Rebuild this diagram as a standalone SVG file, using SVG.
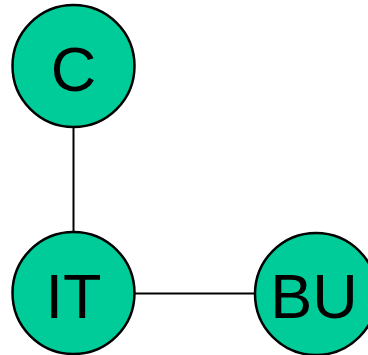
<svg xmlns="http://www.w3.org/2000/svg" width="368" height="355" viewBox="0 0 368 355">
  <style>
    .node circle { fill: #00CC99; stroke: #000; stroke-width: 2.5; }
    .node text { font-family: "Liberation Sans", Arial, sans-serif; font-size: 63px; fill: #000; text-anchor: middle; }
    .edge { stroke: #000; stroke-width: 2; fill: none; }
  </style>
  <rect width="368" height="355" fill="#fff"/>
  <g id="connectors">
    <line class="edge" x1="73.5" y1="127" x2="73.5" y2="232"/>
    <line class="edge" x1="134.5" y1="293.5" x2="255" y2="293.5"/>
  </g>
  <g id="node-C" class="node">
    <circle cx="73.5" cy="66" r="61"/>
    <text x="73.5" y="91">C</text>
  </g>
  <g id="node-IT" class="node">
    <circle cx="73.5" cy="293" r="61"/>
    <text x="73.5" y="318">IT</text>
  </g>
  <g id="node-BU" class="node">
    <circle cx="316" cy="294" r="61"/>
    <text x="314" y="318">BU</text>
  </g>
</svg>
